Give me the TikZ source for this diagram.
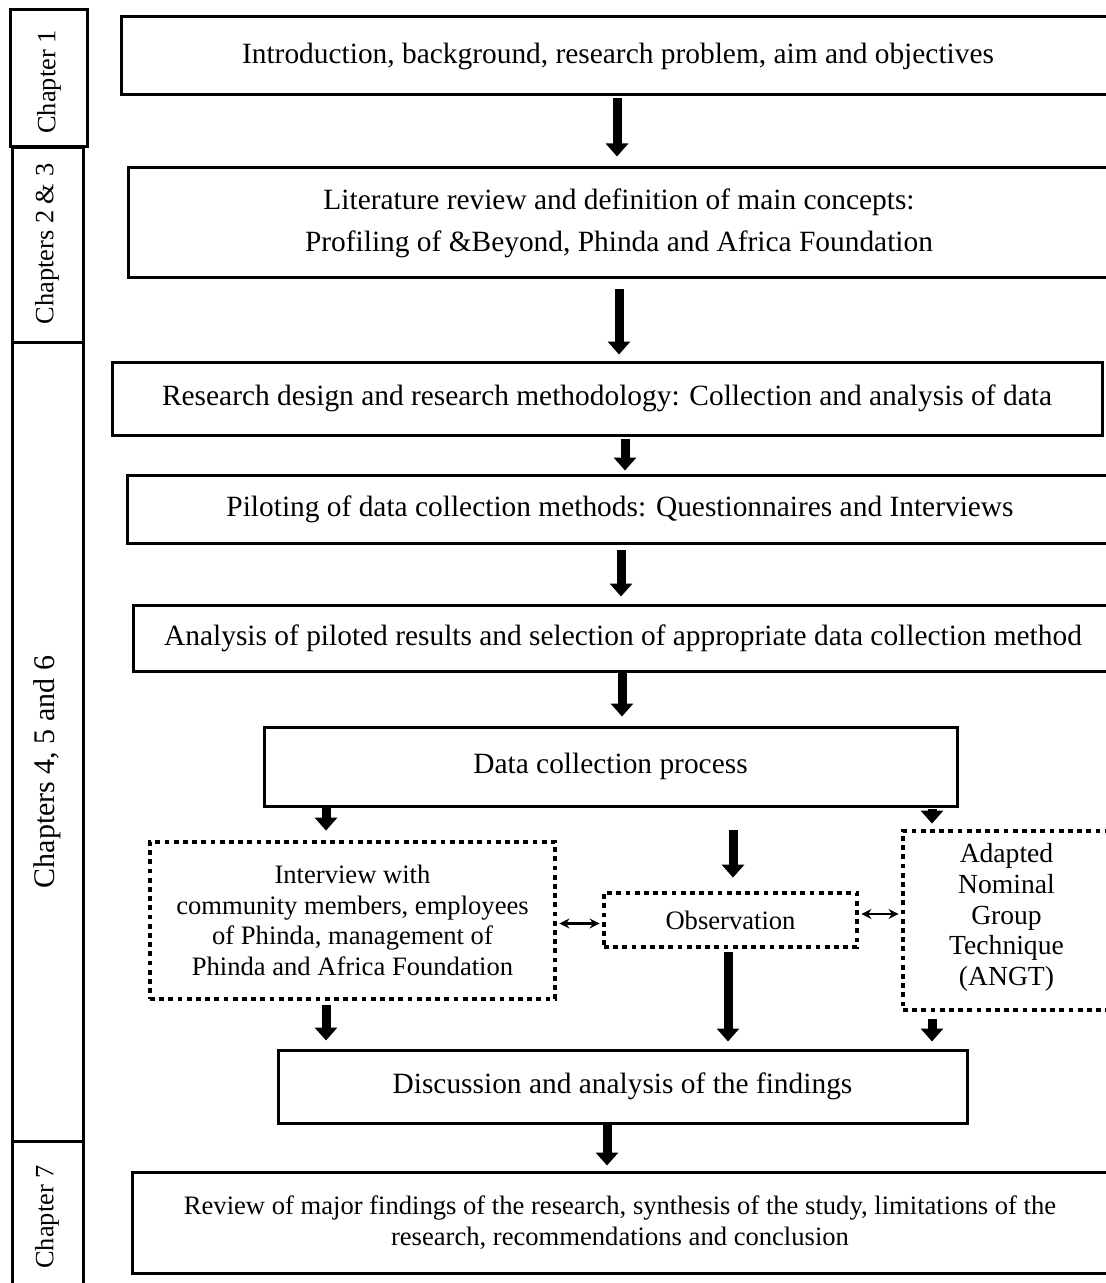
\documentclass[tikz,border=0pt]{standalone}
\usepackage{fontspec}
\setmainfont{Liberation Serif}
\usetikzlibrary{arrows.meta,fit,calc}
\begin{document}
\begin{tikzpicture}[x=0.5pt,y=-0.5pt,
  sz/.style 2 args={minimum width=#1*0.5pt, minimum height=#2*0.5pt},
  big/.style={font=\fontsize{14.7}{21}\selectfont},
  small/.style={font=\fontsize{13.3}{15.3}\selectfont},
  box/.style={draw, line width=1.5pt, inner sep=0pt, align=center, big},
  dotbox/.style={draw, line width=2.4pt, dash pattern=on 2.4pt off 2.2pt, inner sep=0pt, align=center, small},
  chapbox/.style={draw, line width=1.5pt, inner sep=0pt},
  chaptext/.style={rotate=90, font=\fontsize{13.2}{15}\selectfont},
  bigarr/.style={line width=4.5pt, -{Triangle[width=11pt,length=6.5pt]}},
  dblarr/.style={line width=1.2pt, {Stealth[length=5pt,width=5pt]}-{Stealth[length=5pt,width=5pt]}}]
\useasboundingbox (0,0) rectangle (1105,1283);
\fill[white] (0,0) rectangle (1105,1283);

% chapter column
\node[chapbox, fit={(10,10) (87,147)}] (ch1) {};
\node[chapbox, fit={(12,148) (83,342)}] (ch2) {};
\node[chapbox, fit={(12,342) (83,1141)}] (ch3) {};
\node[chapbox, fit={(12,1141) (83,1300)}] (ch4) {};
\node[chaptext] (ch1t) at (49,82) {Chapter 1};
\node[chaptext] (ch2t) at (47,244) {Chapters 2 \& 3};
\node[chaptext, font=\fontsize{15}{17}\selectfont] (ch3t) at (47,772) {Chapters 4, 5 and 6};
\node[chaptext] (ch4t) at (47,1217) {Chapter 7};

% main boxes
\node[box, sz={994}{78}] (b1) at (618,56) {Introduction, background, research problem, aim and objectives};
\node[box, sz={982}{110}] (b2) at (619,223) {Literature review and definition of main concepts:\\Profiling of \&Beyond, Phinda and Africa Foundation};
\node[box, sz={990}{73}] (b3) at (607,398.5) {Research design and research methodology: Collection and analysis of data};
\node[box, sz={986}{68}] (b4) at (620,509) {Piloting of data collection methods: Questionnaires and Interviews};
\node[box, sz={980}{66}] (b5) at (623,638) {Analysis of piloted results and selection of appropriate data collection method};
\node[box, sz={693}{79}] (b6) at (610.5,766.5) {Data collection process};
\node[dotbox, sz={405}{157}] (intv) at (352.5,920.5) {Interview with\\community members, employees\\of Phinda, management of\\Phinda and Africa Foundation};
\node[dotbox, sz={253}{54}] (obs) at (730.5,920) {Observation};
\node[dotbox, sz={207}{179}, font=\fontsize{13.8}{15.3}\selectfont] (angt) at (1006.5,920.5) {Adapted\\Nominal\\Group\\Technique\\(ANGT)\rule[-6pt]{0pt}{6pt}};
\node[box, sz={689}{73}] (disc) at (622.5,1086.5) {Discussion and analysis of the findings};
\node[box, sz={976}{101}, font=\fontsize{13.3}{15.5}\selectfont] (fin) at (620,1222.5) {Review of major findings of the research, synthesis of the study, limitations of the\\research, recommendations and conclusion};

% arrows
\draw[bigarr, shorten <=1pt, shorten >=5pt] (617,0 |- b1.south) -- (617,0 |- b2.north);
\draw[bigarr, shorten <=5pt, shorten >=3pt] (619,0 |- b2.south) -- (619,0 |- b3.north);
\draw[bigarr, shorten <=1pt, shorten >=1.5pt] (625,0 |- b3.south) -- (625,0 |- b4.north);
\draw[bigarr, shorten <=2.5pt, shorten >=3.5pt] (621,0 |- b4.south) -- (621,0 |- b5.north);
\draw[bigarr, shorten <=0pt, shorten >=4.5pt] (622,0 |- b5.south) -- (622,0 |- b6.north);
\draw[bigarr, shorten <=0pt, shorten >=4.5pt] (326,0 |- b6.south) -- (326,0 |- intv.north);
\draw[bigarr, shorten <=11pt, shorten >=6.5pt] (733,0 |- b6.south) -- (733,0 |- obs.north);
\draw[bigarr, shorten <=0.5pt, shorten >=2.5pt] (932,0 |- b6.south) -- (932,0 |- angt.north);
\draw[bigarr, shorten <=2pt, shorten >=4pt] (326,0 |- intv.south) -- (326,0 |- disc.north);
\draw[bigarr, shorten <=1.5pt, shorten >=3.5pt] (728,0 |- obs.south) -- (728,0 |- disc.north);
\draw[bigarr, shorten <=3.5pt, shorten >=3.5pt] (932,0 |- angt.south) -- (932,0 |- disc.north);
\draw[bigarr, shorten <=0pt, shorten >=2.5pt] (607,0 |- disc.south) -- (607,0 |- fin.north);
\draw[dblarr, shorten <=1pt, shorten >=1pt] ([yshift=-1.5pt]intv.east) -- ([yshift=-1.5pt]intv.east -| obs.west);
\draw[dblarr, shorten <=1pt, shorten >=1pt] ([yshift=3pt]obs.east) -- ([yshift=3pt]obs.east -| angt.west);
\end{tikzpicture}
\end{document}
